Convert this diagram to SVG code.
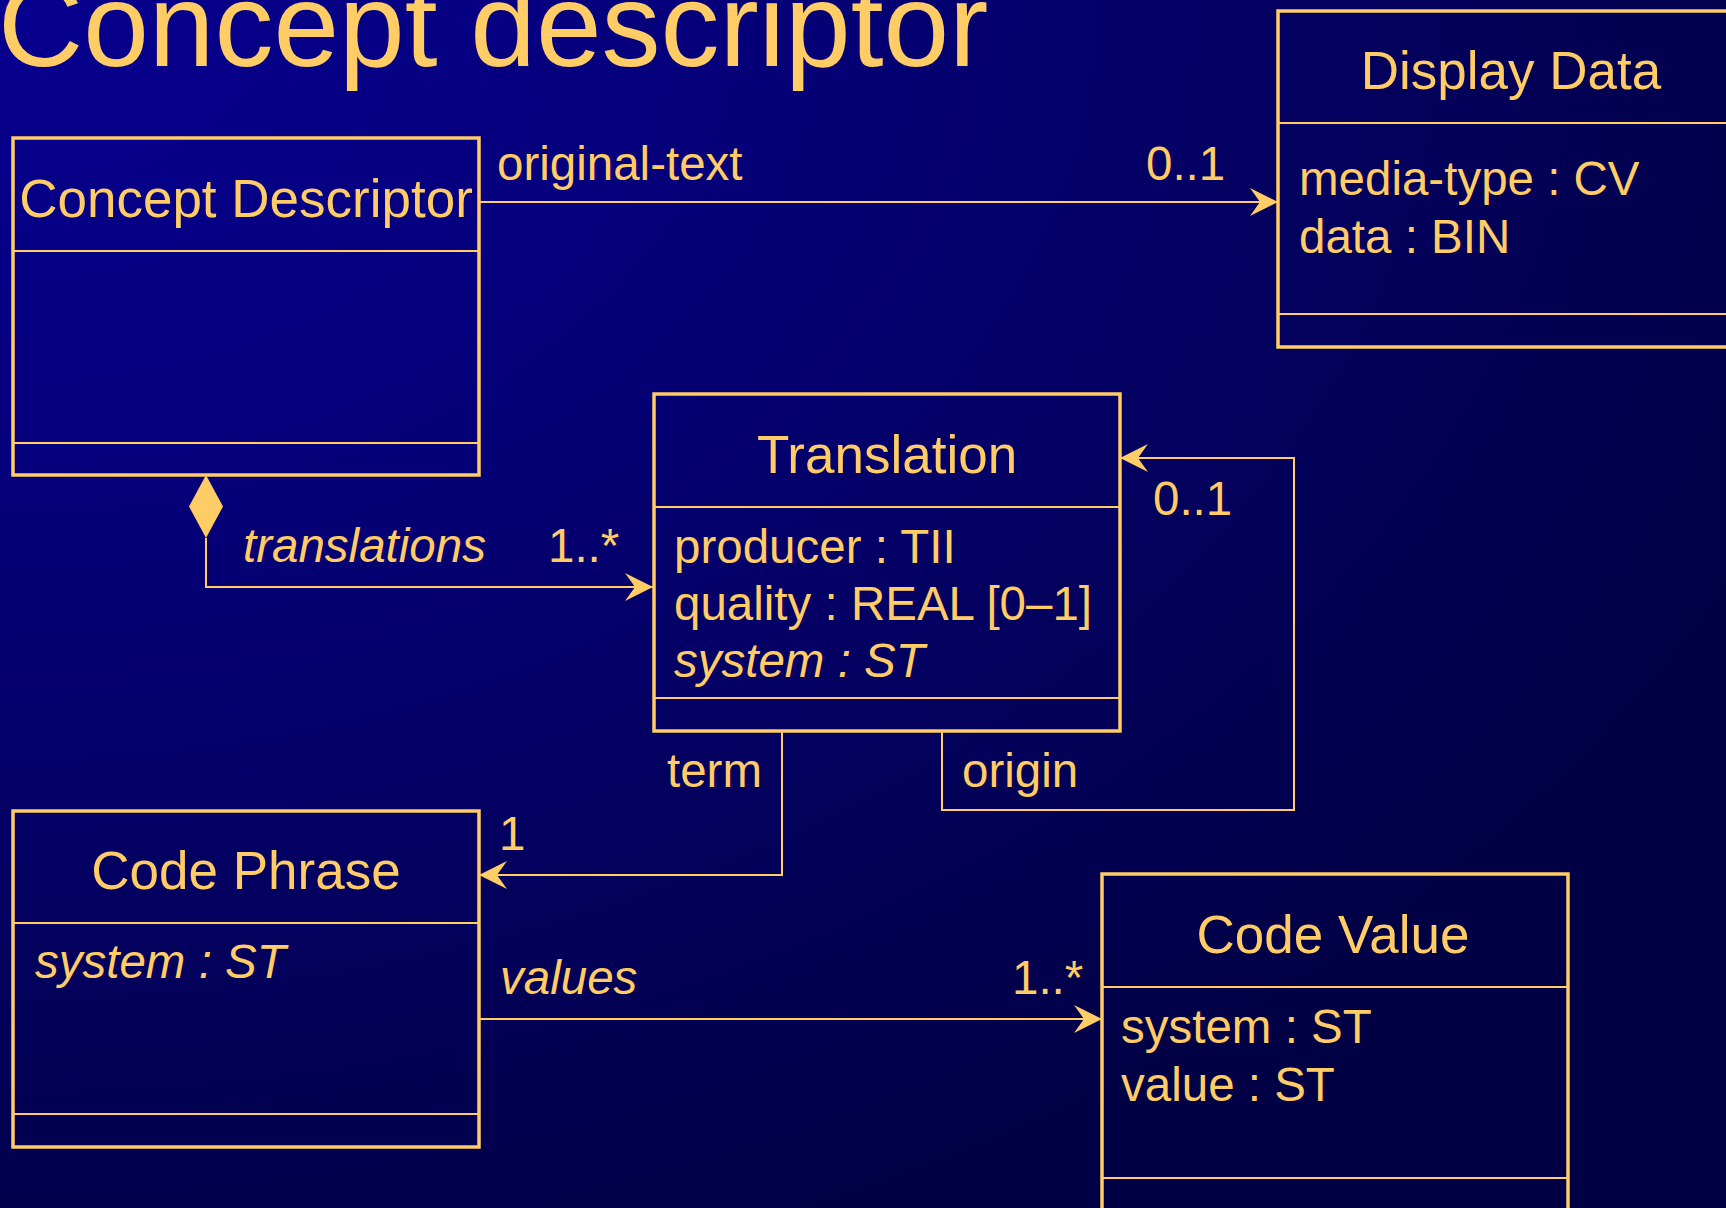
<svg xmlns="http://www.w3.org/2000/svg" width="1726" height="1208" viewBox="0 0 1726 1208">
<defs>
<radialGradient id="bg" gradientUnits="userSpaceOnUse" cx="0" cy="0" r="1" gradientTransform="translate(0,0) scale(1950,1350)">
<stop offset="0" stop-color="#07008F"/>
<stop offset="0.3" stop-color="#06007F"/>
<stop offset="0.65" stop-color="#040062"/>
<stop offset="1" stop-color="#020044"/>
</radialGradient>
<marker id="arr" markerUnits="userSpaceOnUse" viewBox="-30 -16 32 32" refX="0" refY="0" markerWidth="32" markerHeight="32" orient="auto">
<path d="M0,0 L-28,-14 L-18,0 L-28,14 Z" fill="#FFCC66"/>
</marker>
<style>
text{font-family:"Liberation Sans",Arial,sans-serif;fill:#FFCC66}
.title{font-size:118px}
.cls{font-size:53px;text-anchor:middle}
.att{font-size:47.5px}
.lbl{font-size:47.5px}
.it{font-style:italic}
.box{fill:none;stroke:#FFCC66;stroke-width:3.5}
.div{stroke:#FFCC66;stroke-width:2}
.con{fill:none;stroke:#FFCC66;stroke-width:2}
</style>
</defs>
<rect x="0" y="0" width="1726" height="1208" fill="url(#bg)"/>
<text class="title" x="-2" y="66">Concept descriptor</text>

<g id="concept-descriptor">
<rect class="box" x="13" y="138" width="466" height="337"/>
<line class="div" x1="13" y1="251" x2="479" y2="251"/>
<line class="div" x1="13" y1="443" x2="479" y2="443"/>
<text class="cls" x="246" y="217">Concept Descriptor</text>
</g>

<g id="display-data">
<rect class="box" x="1278" y="11" width="466" height="336"/>
<line class="div" x1="1278" y1="123" x2="1744" y2="123"/>
<line class="div" x1="1278" y1="314" x2="1744" y2="314"/>
<text class="cls" x="1511" y="89">Display Data</text>
<text class="att" x="1299" y="195">media-type : CV</text>
<text class="att" x="1299" y="253">data : BIN</text>
</g>

<g id="translation">
<rect class="box" x="654" y="394" width="466" height="337"/>
<line class="div" x1="654" y1="507" x2="1120" y2="507"/>
<line class="div" x1="654" y1="698" x2="1120" y2="698"/>
<text class="cls" x="887" y="473">Translation</text>
<text class="att" x="674" y="563">producer : TII</text>
<text class="att" x="674" y="620">quality : REAL [0–1]</text>
<text class="att it" x="674" y="677">system : ST</text>
</g>

<g id="code-phrase">
<rect class="box" x="13" y="811" width="466" height="336"/>
<line class="div" x1="13" y1="923" x2="479" y2="923"/>
<line class="div" x1="13" y1="1114" x2="479" y2="1114"/>
<text class="cls" x="246" y="889">Code Phrase</text>
<text class="att it" x="35" y="978">system : ST</text>
</g>

<g id="code-value">
<rect class="box" x="1102" y="874" width="466" height="337"/>
<line class="div" x1="1102" y1="987" x2="1568" y2="987"/>
<line class="div" x1="1102" y1="1178" x2="1568" y2="1178"/>
<text class="cls" x="1333" y="953">Code Value</text>
<text class="att" x="1121" y="1043">system : ST</text>
<text class="att" x="1121" y="1101">value : ST</text>
</g>

<g id="connectors">
<path class="con" d="M479,202 H1278" marker-end="url(#arr)"/>
<text class="lbl" x="497" y="180">original-text</text>
<text class="lbl" x="1146" y="180">0..1</text>

<polygon points="206,475 223,506.5 206,538 189,506.5" fill="#FFCC66"/>
<path class="con" d="M206,538 V587 H653" marker-end="url(#arr)"/>
<text class="lbl it" x="243" y="562">translations</text>
<text class="lbl" x="548" y="562">1..*</text>

<path class="con" d="M942,731 V810 H1294 V458 H1120" marker-end="url(#arr)"/>
<text class="lbl" x="962" y="787">origin</text>
<text class="lbl" x="1153" y="515">0..1</text>

<path class="con" d="M782,731 V875 H479" marker-end="url(#arr)"/>
<text class="lbl" x="667" y="787">term</text>
<text class="lbl" x="499" y="850">1</text>

<path class="con" d="M479,1019 H1102" marker-end="url(#arr)"/>
<text class="lbl it" x="500" y="994">values</text>
<text class="lbl" x="1012" y="994">1..*</text>
</g>
</svg>
